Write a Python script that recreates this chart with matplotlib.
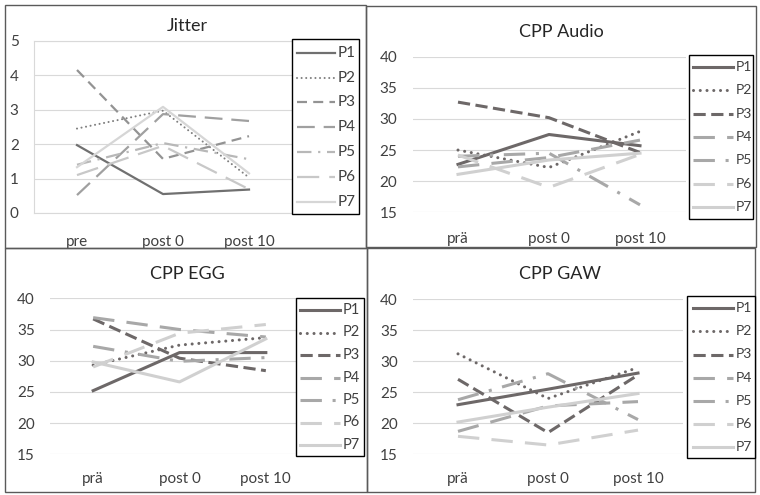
import matplotlib
matplotlib.use('Agg')
import matplotlib.pyplot as plt
from matplotlib.patches import Rectangle
from matplotlib.lines import Line2D

plt.rcParams['font.family'] = ['Lato', 'DejaVu Sans']

W, H = 760, 495

participantes = ['P1', 'P2', 'P3', 'P4', 'P5', 'P6', 'P7']
momentos_jitter = ['pre', 'post 0', 'post 10']
momentos_cpp = ['prä', 'post 0', 'post 10']

# valores (pre, post 0, post 10)
jitter = [
    [1.97, 0.55, 0.68],
    [2.45, 2.97, 1.03],
    [4.15, 1.57, 2.23],
    [0.52, 2.87, 2.67],
    [1.40, 2.03, 1.56],
    [1.10, 1.95, 0.69],
    [1.33, 3.08, 1.15],
]
cpp_audio = [
    [22.7, 27.5, 25.7],
    [25.0, 22.2, 28.0],
    [32.7, 30.2, 24.6],
    [22.3, 23.8, 26.6],
    [24.0, 24.5, 16.2],
    [24.2, 19.0, 24.3],
    [21.1, 23.4, 24.5],
]
cpp_egg = [
    [25.2, 31.3, 31.3],
    [29.3, 32.5, 33.7],
    [36.7, 30.4, 28.4],
    [36.9, 35.0, 33.8],
    [32.3, 29.9, 30.5],
    [29.0, 34.4, 35.8],
    [29.8, 26.6, 33.5],
]
cpp_gaw = [
    [23.0, 25.5, 28.1],
    [31.2, 24.0, 29.0],
    [27.1, 18.5, 27.8],
    [18.7, 22.8, 23.5],
    [23.8, 28.0, 20.6],
    [17.9, 16.5, 18.9],
    [20.2, 22.6, 24.8],
]

# estilos de línea
estilo_jitter = [
    dict(color='#707070', lw=1.6, ls='-'),
    dict(color='#7f7f7f', lw=1.5, ls=(0, (0.01, 2.2)), dash_capstyle='round'),
    dict(color='#939393', lw=1.6, ls=(0, (4.5, 2.8))),
    dict(color='#a0a0a0', lw=1.6, ls=(0, (8, 4))),
    dict(color='#b8b8b8', lw=1.6, ls=(0, (6.5, 3, 1, 3))),
    dict(color='#c8c8c8', lw=1.6, ls=(0, (10, 4.5))),
    dict(color='#d6d6d6', lw=1.6, ls='-'),
]
estilo_cpp = [
    dict(color='#6d6868', lw=2.2, ls='-'),
    dict(color='#6d6868', lw=2.2, ls=(0, (0.01, 2.2)), dash_capstyle='round'),
    dict(color='#6d6868', lw=2.2, ls=(0, (4, 1.8))),
    dict(color='#a8a8a8', lw=2.2, ls=(0, (7, 4))),
    dict(color='#a8a8a8', lw=2.2, ls=(0, (7, 3.5, 1, 3.5))),
    dict(color='#d0d0d0', lw=2.2, ls=(0, (7, 4))),
    dict(color='#d0d0d0', lw=2.2, ls='-'),
]


def px_rect(x0, y0, x1, y1):
    return [x0 / W, 1 - y1 / H, (x1 - x0) / W, (y1 - y0) / H]


def marco(fig, x0, y0, x1, y1):
    fig.add_artist(Rectangle((x0 / W, 1 - y1 / H), (x1 - x0) / W, (y1 - y0) / H,
                             transform=fig.transFigure, fill=False,
                             edgecolor='#5a5a5a', lw=1.0))


def leyenda(fig, caja, fila0, paso, xl, xt, estilos, fs):
    x0, y0, x1, y1 = caja
    fig.add_artist(Rectangle((x0 / W, 1 - y1 / H), (x1 - x0) / W, (y1 - y0) / H,
                             transform=fig.transFigure, facecolor='white',
                             edgecolor='black', lw=1.0, zorder=5))
    for i, (nombre, est) in enumerate(zip(participantes, estilos)):
        y = 1 - (fila0 + i * paso) / H
        fig.add_artist(Line2D([xl[0] / W, xl[1] / W], [y, y], transform=fig.transFigure,
                              zorder=6, **est))
        fig.text(xt / W, y, nombre, fontsize=fs, va='center', ha='left',
                 color='#404040', zorder=7)


def panel(fig, rect, datos, estilos, etiquetas, ylim, yticks, titulo, tpos,
          xpad, caja_gris=False):
    ax = fig.add_axes(rect)
    for serie, est in zip(datos, estilos):
        ax.plot(range(len(etiquetas)), serie, **est)
    ax.set_xlim(-0.5, len(etiquetas) - 0.5)
    ax.set_ylim(*ylim)
    ax.set_yticks(yticks)
    ax.set_xticks(range(len(etiquetas)))
    ax.set_xticklabels(etiquetas)
    ax.grid(axis='y', color='#d9d9d9', lw=0.8)
    ax.set_axisbelow(True)
    for lado in ['top', 'right', 'left', 'bottom']:
        ax.spines[lado].set_visible(False)
    if caja_gris:
        for lado in ['top', 'left', 'bottom']:
            ax.spines[lado].set_visible(True)
            ax.spines[lado].set_color('#d9d9d9')
    ax.tick_params(axis='both', length=0, labelsize=11, colors='#404040')
    ax.tick_params(axis='y', pad=11)
    ax.tick_params(axis='x', pad=xpad)
    ax.patch.set_alpha(0)
    fig.text(tpos[0] / W, 1 - tpos[1] / H, titulo, fontsize=13, ha='center',
             va='center', color='#262626')
    return ax


fig = plt.figure(figsize=(W / 100, H / 100), dpi=100)

# marcos de cada gráfico
marco(fig, 5, 5, 366, 248)
marco(fig, 366, 6, 756, 247)
marco(fig, 5, 248, 367, 492)
marco(fig, 367, 248, 755, 492)

panel(fig, px_rect(34, 40.7, 292, 213), jitter, estilo_jitter, momentos_jitter,
      (0, 5), range(0, 6), 'Jitter', (187, 26), 16, caja_gris=True)
leyenda(fig, (292, 39, 359, 214), 52.7, 24.8, (297, 335), 338, estilo_jitter, 11)

panel(fig, px_rect(412.5, 56.7, 685.5, 212.3), cpp_audio, estilo_cpp, momentos_cpp,
      (15, 40), range(15, 41, 5), 'CPP Audio', (561, 32), 14)
leyenda(fig, (689, 55, 753, 219), 66.7, 23.4, (693, 733), 736, estilo_cpp, 10)

panel(fig, px_rect(50, 298.3, 309, 454.3), cpp_egg, estilo_cpp, momentos_cpp,
      (15, 40), range(15, 41, 5), 'CPP EGG', (187, 274), 13)
leyenda(fig, (296, 298, 364, 456), 310, 22.5, (300, 340), 343, estilo_cpp, 10.5)

panel(fig, px_rect(413, 299.3, 683, 454.3), cpp_gaw, estilo_cpp, momentos_cpp,
      (15, 40), range(15, 41, 5), 'CPP GAW', (560, 274), 13)
leyenda(fig, (687, 296, 755, 458), 308.3, 23.1, (693, 733), 736, estilo_cpp, 10)

fig.savefig('out.png', dpi=100, facecolor='white')
plt.close(fig)
